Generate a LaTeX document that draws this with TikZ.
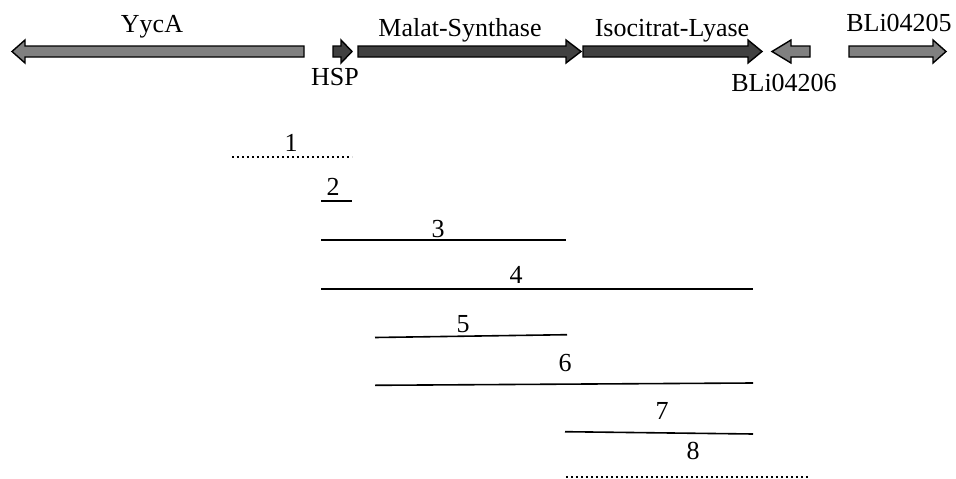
\documentclass[tikz,border=0pt]{standalone}
\usepackage{fontspec}
\setmainfont{Liberation Serif}
\usepackage{tikz}
\usetikzlibrary{positioning}

\definecolor{genedark}{HTML}{404040}
\definecolor{genegray}{HTML}{808080}

% gene arrow: tail x, tip x, head base x, fill colour
\newcommand{\genearrow}[4]{%
  \draw[gene, fill=#4] (#1,46) -- (#3,46) -- (#3,40) -- (#2,51.5) -- (#3,63) -- (#3,57) -- (#1,57) -- cycle;}

\begin{document}
\begin{tikzpicture}[x=1pt, y=-1pt,
  gene/.style={draw=black, line width=1.4pt, line join=miter},
  lbl/.style={font=\fontsize{26}{30}\selectfont, inner sep=0pt, anchor=base},
  frag/.style={line width=1.6pt},
  fragdot/.style={line width=2.6pt, dash pattern=on 2.4pt off 2.6pt}
]
\useasboundingbox (0,0) rectangle (956,479);

% gene map
\genearrow{304}{12}{25}{genegray}
\genearrow{333}{352}{341}{genedark}
\genearrow{358}{581}{566}{genedark}
\genearrow{583}{762}{748}{genedark}
\genearrow{810}{772}{791}{genegray}
\genearrow{849}{946}{933}{genegray}

\node[lbl] (yyca) at (152,32) {YycA};
\node[lbl] (hsp) at (335,85) {HSP};
\node[lbl] (ms) at (460,36) {Malat-Synthase};
\node[lbl] (icl) at (672,36) {Isocitrat-Lyase};
\node[lbl] (bli06) at (784,91) {BLi04206};
\node[lbl] (bli05) at (899,31) {BLi04205};

% fragments
\coordinate (f1a) at (232,157);   \coordinate (f1b) at (352,157);
\coordinate (f2a) at (321,201);   \coordinate (f2b) at (352,201);
\coordinate (f3a) at (321,240);   \coordinate (f3b) at (566,240);
\coordinate (f4a) at (321,289);   \coordinate (f4b) at (753,289);
\coordinate (f5a) at (375,337.5); \coordinate (f5b) at (567,334.7);
\coordinate (f6a) at (375,385.3); \coordinate (f6b) at (753,383);
\coordinate (f7a) at (565,431.7); \coordinate (f7b) at (753,434);
\coordinate (f8a) at (566,477);   \coordinate (f8b) at (808,477);

\draw[fragdot] (f1a) -- (f1b);
\draw[frag] (f2a) -- (f2b);
\draw[frag] (f3a) -- (f3b);
\draw[frag] (f4a) -- (f4b);
\draw[frag] (f5a) -- (f5b);
\draw[frag] (f6a) -- (f6b);
\draw[frag] (f7a) -- (f7b);
\draw[fragdot] (f8a) -- (f8b);

\node[lbl] (n1) at (291,151) {1};
\node[lbl] (n2) at (333,195) {2};
\node[lbl] (n3) at (438,237) {3};
\node[lbl] (n4) at (516,283) {4};
\node[lbl] (n5) at (463,332) {5};
\node[lbl] (n6) at (565,371) {6};
\node[lbl] (n7) at (662,419) {7};
\node[lbl] (n8) at (693,459) {8};
\end{tikzpicture}
\end{document}
